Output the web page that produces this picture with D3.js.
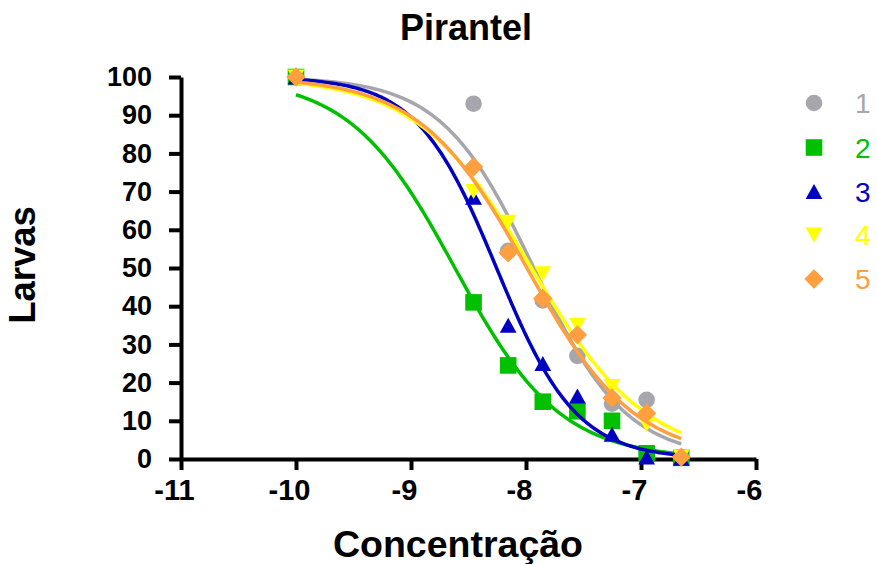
<!DOCTYPE html>
<html>
<head>
<meta charset="utf-8">
<script src="https://cdn.jsdelivr.net/npm/d3@7"></script>
<style>
  html, body { margin: 0; padding: 0; background: #fff; }
  svg { display: block; }
  text { font-family: "Liberation Sans", Arial, Helvetica, sans-serif; }
</style>
</head>
<body>
<div id="chart"></div>
<script>
// ---------- data ----------
const xTicks = [-11, -10, -9, -8, -7, -6];
const yTicks = [0, 10, 20, 30, 40, 50, 60, 70, 80, 90, 100];
const logConc = [-10, -8.456, -8.155, -7.854, -7.553, -7.252, -6.951, -6.65];

const seriesNames = ["1", "2", "3", "4", "5"];
const series1 = [100, 93, 54.5, 41.5, 27, 14.5, 15.5, 0.5];
const series2 = [100, 41, 24.5, 15, 12.5, 10, 1.5, 0.3];
const series3 = [100, 68.5, 35, 25, 16.5, 6.5, 0.5, 0.2];
const series4 = [100, 70, 62, 48.5, 35, 19, 9, 0.5];
const series5 = [100, 76.5, 54, 42, 32.5, 16, 12, 0.5];

// fitted sigmoid (log(inhibitor) vs response, variable slope) parameters
const fitTop      = [100, 100, 100, 100, 100];
const fitBottom   = [0, 0, 0, 0, 0];
const fitLogIC50  = [-7.932, -8.618, -8.256, -7.952, -7.992];
const fitHill     = [1.08, 0.95, 1.25, 0.87, 0.93];

const colors  = ["#A6A6AC", "#00C000", "#0000C0", "#FFFF00", "#FF9F40"];
const shapes  = ["circle", "square", "triangle", "triangleDown", "diamond"];

// ---------- layout ----------
const W = 877, H = 564;
const svg = d3.select("#chart").append("svg").attr("width", W).attr("height", H);

const x = d3.scaleLinear().domain([-11, -6]).range([181, 756]);
const y = d3.scaleLinear().domain([0, 100]).range([459, 77]);

// ---------- axes ----------
const yAxis = d3.axisLeft(y).tickValues(yTicks).tickSize(12).tickSizeOuter(0).tickPadding(17);
const gy = svg.append("g").attr("transform", `translate(${x(-11)},0)`).call(yAxis);
gy.selectAll("text").attr("font-size", 27).attr("font-weight", "bold").attr("fill", "#000")
  .style("font-family", '"Liberation Sans", Arial, sans-serif');

const xAxis = d3.axisBottom(x).tickValues(xTicks).tickSize(11).tickSizeOuter(0).tickPadding(9.5)
  .tickFormat(d => String(d));
const gx = svg.append("g").attr("transform", `translate(0,${y(0)})`).call(xAxis);
gx.selectAll("text").attr("font-size", 29).attr("font-weight", "bold").attr("fill", "#000")
  .attr("dx", -7).style("font-family", '"Liberation Sans", Arial, sans-serif');

[gx, gy].forEach(g => {
  g.select(".domain").attr("stroke", "#000").attr("stroke-width", 4);
  g.selectAll(".tick line").attr("stroke", "#000").attr("stroke-width", 4);
});

// ---------- marker shapes ----------
function shapePath(kind) {
  switch (kind) {
    case "circle": return d3.symbol().type(d3.symbolCircle).size(Math.PI * 8.3 * 8.3)();
    case "square": return "M-8.3,-8.3H8.3V8.3H-8.3Z";
    case "triangle": return "M0,-7.5L8.4,7.5L-8.4,7.5Z";
    case "triangleDown": return "M0,7.5L8.4,-7.5L-8.4,-7.5Z";
    case "diamond": return "M0,-9.7L9.7,0L0,9.7L-9.7,0Z";
  }
}

// ---------- series ----------
const allSeries = [series1, series2, series3, series4, series5];
const curveX = d3.range(0, 201).map(i => -10 + (i / 200) * (-6.65 + 10));
const line = d3.line().x(d => x(d[0])).y(d => y(d[1])).curve(d3.curveLinear);

allSeries.forEach((vals, si) => {
  const g = svg.append("g");
  const fn = X => fitBottom[si] + (fitTop[si] - fitBottom[si]) / (1 + Math.pow(10, (X - fitLogIC50[si]) * fitHill[si]));
  g.append("path")
    .datum(curveX.map(X => [X, fn(X)]))
    .attr("d", line)
    .attr("fill", "none")
    .attr("stroke", colors[si])
    .attr("stroke-width", 3.5);
  g.selectAll("path.pt")
    .data(vals.map((v, i) => [logConc[i], v]))
    .enter().append("path")
    .attr("class", "pt")
    .attr("d", shapePath(shapes[si]))
    .attr("transform", d => `translate(${x(d[0])},${y(d[1])})`)
    .attr("fill", colors[si]);
});

// ---------- legend ----------
const legendY = [103, 147.5, 191.5, 235, 279];
seriesNames.forEach((name, si) => {
  svg.append("path")
    .attr("d", shapePath(shapes[si]))
    .attr("transform", `translate(814,${legendY[si]})`)
    .attr("fill", colors[si]);
  svg.append("text")
    .attr("x", 855).attr("y", legendY[si])
    .attr("dy", "0.36em")
    .attr("font-size", 28)
    .attr("fill", colors[si])
    .text(name);
});

// ---------- titles ----------
svg.append("text")
  .attr("x", 466).attr("y", 40)
  .attr("text-anchor", "middle")
  .attr("font-size", 36).attr("font-weight", "bold")
  .text("Pirantel");

svg.append("text")
  .attr("x", 458).attr("y", 557)
  .attr("text-anchor", "middle")
  .attr("font-size", 37.5).attr("font-weight", "bold")
  .text("Concentração");

svg.append("text")
  .attr("transform", "translate(35,265) rotate(-90)")
  .attr("text-anchor", "middle")
  .attr("font-size", 36.5).attr("font-weight", "bold")
  .text("Larvas");
</script>
</body>
</html>
